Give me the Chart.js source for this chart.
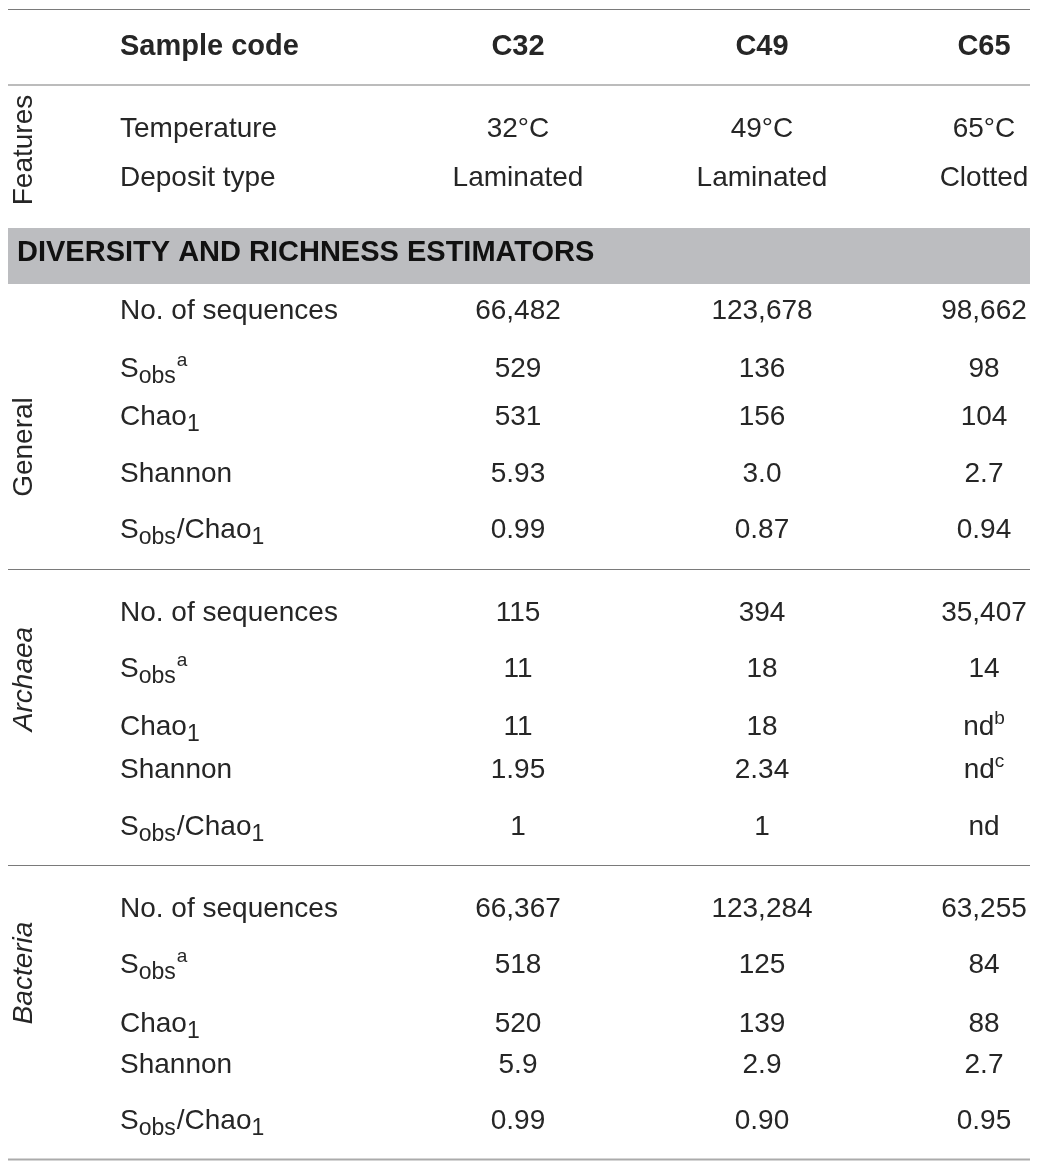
<!DOCTYPE html>
<html><head><meta charset="utf-8">
<script src="https://cdn.jsdelivr.net/npm/chart.js@4.4.1/dist/chart.umd.min.js"></script>
<style>html,body{margin:0;padding:0;background:#fff;}canvas{display:block}</style>
</head><body><canvas id="c" width="1038" height="1168"></canvas>
<script>
// ---- data ----
const columns = ['C32', 'C49', 'C65'];
const headerLabel = 'Sample code';
const featuresGroup = 'Features';
const featureLabels = ['Temperature', 'Deposit type'];
const temperatureValues = ['32°C', '49°C', '65°C'];
const depositValues = ['Laminated', 'Laminated', 'Clotted'];
const sectionTitle = 'DIVERSITY AND RICHNESS ESTIMATORS';
const groups = ['General', 'Archaea', 'Bacteria'];
const groupItalic = [false, true, true];
const metricLabels = ['No. of sequences', 'S<sub>obs</sub><sup>a</sup>', 'Chao<sub>1</sub>', 'Shannon', 'S<sub>obs</sub>/Chao<sub>1</sub>'];
const generalValues = [['66,482', '123,678', '98,662'], ['529', '136', '98'], ['531', '156', '104'], ['5.93', '3.0', '2.7'], ['0.99', '0.87', '0.94']];
const archaeaValues = [['115', '394', '35,407'], ['11', '18', '14'], ['11', '18', 'nd<sup>b</sup>'], ['1.95', '2.34', 'nd<sup>c</sup>'], ['1', '1', 'nd']];
const bacteriaValues = [['66,367', '123,284', '63,255'], ['518', '125', '84'], ['520', '139', '88'], ['5.9', '2.9', '2.7'], ['0.99', '0.90', '0.95']];

// ---- layout (positions in scale units) ----
const L = {
  left: 8, right: 1030, labelX: 120, colX: [518, 762, 984], groupX: 32,
  topRule: 9.5, headRule: 85, headBase: 55,
  featBase: [137, 186], featMid: 150,
  bandTop: 228, bandBottom: 284, bandBase: 261, bandX: 17,
  sections: [
    { base: [319, 377, 425, 482, 538], mid: 447, rule: 569.5 },
    { base: [621, 677, 735, 778, 835], mid: 679, rule: 865.5 },
    { base: [917, 973, 1032, 1073, 1129], mid: 973, rule: 1159.5 }
  ]
};
const FONT = '"Liberation Sans", Arial, Helvetica, sans-serif';
const SIZE = 28, BOLD = 29, SUB = 23, SUP = 19;
const TXT = '#262626';

function parseRich(s) {
  const segs = []; const re = /<(sub|sup)>(.*?)<\/\1>|([^<]+)/g; let m;
  while ((m = re.exec(s))) { if (m[3]) segs.push({ t: m[3], k: 'n' }); else segs.push({ t: m[2], k: m[1] }); }
  return segs;
}
function fontFor(k, weight, style) {
  const base = weight === 'bold' ? BOLD : SIZE;
  const sz = k === 'sub' ? SUB : k === 'sup' ? SUP : base;
  return (style || '') + ' ' + (weight || 'normal') + ' ' + sz + 'px ' + FONT;
}
function drawRich(ctx, s, x, y, align, weight, style) {
  const segs = parseRich(s);
  let w = 0;
  segs.forEach(g => { ctx.font = fontFor(g.k, weight, style); g.w = ctx.measureText(g.t).width; w += g.w; });
  let cx = align === 'center' ? x - w / 2 : x;
  ctx.textAlign = 'left'; ctx.textBaseline = 'alphabetic';
  segs.forEach(g => {
    ctx.font = fontFor(g.k, weight, style);
    const dy = g.k === 'sub' ? 6 : g.k === 'sup' ? -11 : 0;
    ctx.fillText(g.t, cx, y + dy);
    cx += g.w + (g.k === 'sub' ? 1 : 0);
  });
}

const tablePlugin = {
  id: 'tablePlugin',
  afterDraw(chart) {
    const ctx = chart.ctx, X = v => chart.scales.x.getPixelForValue(v), Y = v => chart.scales.y.getPixelForValue(v);
    ctx.save();
    const rule = (yv, color, lw) => {
      ctx.strokeStyle = color; ctx.lineWidth = lw; ctx.beginPath();
      ctx.moveTo(X(L.left), Y(yv)); ctx.lineTo(X(L.right), Y(yv)); ctx.stroke();
    };
    // band
    ctx.fillStyle = '#bcbdc0';
    ctx.fillRect(X(L.left), Y(L.bandTop), X(L.right) - X(L.left), Y(L.bandBottom) - Y(L.bandTop));
    // rules
    rule(L.topRule, '#7a7a7a', 1.2);
    rule(L.headRule, '#7a7a7a', 1.2);
    rule(L.sections[0].rule, '#7a7a7a', 1.2);
    rule(L.sections[1].rule, '#7a7a7a', 1.2);
    rule(L.sections[2].rule, '#ababab', 2.2);

    ctx.fillStyle = TXT;
    // header
    drawRich(ctx, headerLabel, X(L.labelX), Y(L.headBase), 'left', 'bold');
    columns.forEach((c, i) => drawRich(ctx, c, X(L.colX[i]), Y(L.headBase), 'center', 'bold'));
    // features
    const featVals = [temperatureValues, depositValues];
    featureLabels.forEach((lab, r) => {
      drawRich(ctx, lab, X(L.labelX), Y(L.featBase[r]), 'left');
      featVals[r].forEach((v, i) => drawRich(ctx, v, X(L.colX[i]), Y(L.featBase[r]), 'center'));
    });
    const vlabel = (text, mid, italic) => {
      ctx.save();
      ctx.translate(X(L.groupX), Y(mid));
      ctx.rotate(-Math.PI / 2);
      ctx.font = (italic ? 'italic ' : '') + 'normal ' + SIZE + 'px ' + FONT;
      ctx.textAlign = 'center'; ctx.textBaseline = 'alphabetic';
      ctx.fillText(text, 0, 0);
      ctx.restore();
    };
    vlabel(featuresGroup, L.featMid, false);
    // band title
    ctx.fillStyle = '#111';
    drawRich(ctx, sectionTitle, X(L.bandX), Y(L.bandBase), 'left', 'bold');
    ctx.fillStyle = TXT;
    // sections
    const sectionValues = [generalValues, archaeaValues, bacteriaValues];
    sectionValues.forEach((vals, s) => {
      const sec = L.sections[s];
      vlabel(groups[s], sec.mid, groupItalic[s]);
      metricLabels.forEach((lab, r) => {
        drawRich(ctx, lab, X(L.labelX), Y(sec.base[r]), 'left');
        vals[r].forEach((v, i) => drawRich(ctx, v, X(L.colX[i]), Y(sec.base[r]), 'center'));
      });
    });
    ctx.restore();
  }
};

new Chart(document.getElementById('c'), {
  type: 'scatter',
  data: { datasets: [{ data: [], pointRadius: 0 }] },
  options: {
    responsive: false, animation: false, devicePixelRatio: 1,
    layout: { padding: 0 },
    plugins: { legend: { display: false }, tooltip: { enabled: false }, title: { display: false } },
    scales: {
      x: { type: 'linear', display: false, min: 0, max: 1038 },
      y: { type: 'linear', display: false, min: 0, max: 1168, reverse: true }
    }
  },
  plugins: [tablePlugin]
});
</script>
</body></html>
